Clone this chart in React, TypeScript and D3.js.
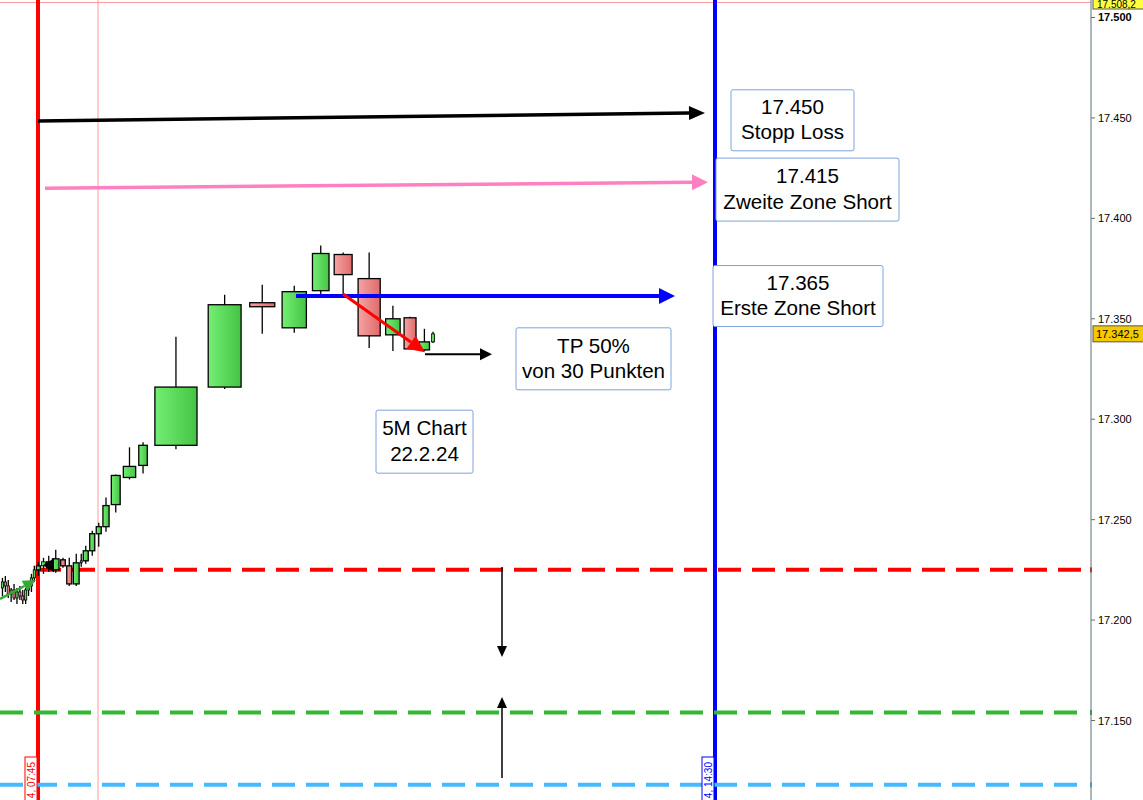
import React from 'react';
import * as d3 from 'd3';

const W = 1143;
const H = 800;

// DAX 5M candles, 22.2.24 (equivolume style: width ~ volume)
const opens = [17216, 17219, 17217, 17213, 17215, 17211, 17214, 17212, 17210, 17215, 17217, 17221, 17225,
  17227, 17229, 17225, 17230, 17227, 17218, 17228.5, 17229.5, 17234.5, 17243, 17246.5, 17257.5, 17271, 17277,
  17287, 17316, 17358, 17345.5, 17364, 17382, 17370, 17342, 17350.5, 17334.5, 17338.5];
const highs = [17221, 17222, 17220, 17216, 17218, 17216, 17217, 17215, 17216, 17219, 17223, 17227, 17229,
  17231, 17232, 17235, 17231, 17231, 17233, 17233, 17237, 17244.5, 17248.5, 17261, 17272.5, 17286, 17288.5,
  17341, 17362, 17367, 17366.5, 17386.5, 17383, 17383, 17356.5, 17351, 17345, 17343.5];
const lows = [17212, 17214, 17211, 17209, 17210, 17208, 17210, 17208, 17208, 17212, 17214, 17219, 17222,
  17223, 17224, 17223.5, 17226, 17217, 17217, 17226.5, 17228, 17232, 17236.5, 17244, 17253.5, 17270, 17273,
  17285, 17315, 17342.5, 17343, 17362, 17362, 17335.5, 17334, 17335, 17334, 17338];
const closes = [17219, 17217, 17213, 17215, 17211, 17214, 17212, 17210, 17215, 17217, 17221, 17225, 17227,
  17229, 17226, 17230.5, 17227, 17218, 17228.5, 17229.5, 17234.5, 17243, 17246.5, 17257, 17272, 17276.5, 17287,
  17316, 17357, 17356, 17363.5, 17382.5, 17372, 17341.5, 17350, 17335, 17338.5, 17342.5];
const volumes = [29, 29, 29, 29, 29, 29, 29, 29, 29, 29, 29, 29, 52,
  50, 55, 85, 60, 65, 75, 25, 65, 65, 65, 80, 115, 160, 111,
  547, 427, 325, 315, 215, 233, 287, 188, 155, 132, 40];

const volumeStart = 10;
const volumeDomain = [0, 11430];

const yTicks = [17150, 17200, 17250, 17300, 17350, 17400, 17450, 17500];
const priceDomain = [17110.42, 17508.71];
const lastPrice = 17342.5;
const sessionHigh = 17508.2;

// horizontal dashed levels
const levelPrices = [17225, 17154, 17118];
const levelStarts = [380, 0, 0];

// vertical time markers (volume position) and the visible part of their labels
const markerTimes = ['4, 07:45', '', '4, 14:30'];
const markerPositions = [380, 980, 7150];

// arrows: [x1, price1] -> [x2, price2]
const arrowStarts = [[380, 17448.5], [450, 17415], [2960, 17361.3], [3430, 17362.3], [4250, 17332.4],
  [5020, 17226.4], [5020, 17121.4], [0, 17210.5], [540, 17227.3]];
const arrowEnds = [[7050, 17452.5], [7080, 17418], [6750, 17361.3], [4250, 17333.4], [4920, 17332.4],
  [5020, 17181.6], [5020, 17161.7], [360, 17220], [430, 17227.3]];

// note boxes
const noteTexts = [['17.450', 'Stopp Loss'], ['17.415', 'Zweite Zone Short'], ['17.365', 'Erste Zone Short'],
  ['TP 50%', 'von 30 Punkten'], ['5M Chart', '22.2.24']];
const noteAnchors = [[7310, 17464], [7160, 17430], [7130, 17376.5], [5160, 17345.5], [3760, 17304.5]];

const de = d3.formatLocale({ decimal: ',', thousands: '.', grouping: [3], currency: ['', '€'] });
const fmtTick = de.format(',.0f');
const fmtPrice = de.format(',.1f');

const FONT = 'Arial, "Liberation Sans", sans-serif';

function Arrow({ x1, y1, x2, y2, color, width, head, half }: any) {
  const dx = x2 - x1, dy = y2 - y1;
  const len = Math.sqrt(dx * dx + dy * dy) || 1;
  const ux = dx / len, uy = dy / len;
  const bx = x2 - ux * head, by = y2 - uy * head;
  const px = -uy, py = ux;
  const pts = `${x2},${y2} ${bx + px * half},${by + py * half} ${bx - px * half},${by - py * half}`;
  return (
    <g>
      {width > 0 && len > head && <line x1={x1} y1={y1} x2={bx} y2={by} stroke={color} strokeWidth={width} />}
      <polygon points={pts} fill={color} />
    </g>
  );
}

export default function App() {
  const x = d3.scaleLinear().domain(volumeDomain).range([0, W]);
  const y = d3.scaleLinear().domain(priceDomain).range([H, 0]);

  const cum: number[] = [];
  let acc = volumeStart;
  volumes.forEach((v) => { cum.push(acc); acc += v; });

  const axisX = 1091;
  const plotRight = 1085;

  const levelStyles = [
    { color: '#ff0000' },
    { color: '#33b833' },
    { color: '#44bbff' },
  ];
  const markerStyles = [
    { color: '#ff0000', w: 4 },
    { color: '#ff9c9c', w: 1 },
    { color: '#0000ff', w: 4 },
  ];
  const arrowStyles = [
    { color: '#000000', width: 3.5, head: 16, half: 7 },
    { color: '#ff80c0', width: 3.5, head: 16, half: 8 },
    { color: '#0000ff', width: 4, head: 16, half: 8 },
    { color: '#ff0000', width: 3, head: 17, half: 8 },
    { color: '#000000', width: 2, head: 12, half: 6 },
    { color: '#000000', width: 1.5, head: 11, half: 5 },
    { color: '#000000', width: 1.5, head: 11, half: 5 },
    { color: '#33aa33', width: 2.5, head: 13, half: 6 },
    { color: '#000000', width: 0, head: 11, half: 7 },
  ];
  const noteBoxes = [
    { w: 123, h: 61 },
    { w: 183, h: 63 },
    { w: 170, h: 61 },
    { w: 155, h: 62 },
    { w: 97, h: 63 },
  ];

  return (
    <svg width={W} height={H} style={{ position: 'absolute', left: 0, top: 0, background: '#fff' }}
      fontFamily={FONT}>
      <defs>
        <linearGradient id="gUp" x1="0" x2="1" y1="0" y2="0">
          <stop offset="0" stopColor="#74ee74" />
          <stop offset="1" stopColor="#44c444" />
        </linearGradient>
        <linearGradient id="gDn" x1="0" x2="1" y1="0" y2="0">
          <stop offset="0" stopColor="#f5a3a3" />
          <stop offset="1" stopColor="#e06a6a" />
        </linearGradient>
        <clipPath id="plot"><rect x={0} y={0} width={axisX} height={H} /></clipPath>
      </defs>
      <rect x={0} y={0} width={W} height={H} fill="#fff" />

      {/* top session high line */}
      <line x1={0} x2={axisX} y1={y(sessionHigh) + 1.5} y2={y(sessionHigh) + 1.5} stroke="#ff9c9c" strokeWidth={1} />

      {/* vertical markers */}
      {markerPositions.map((m, i) => (
        <line key={'vm' + i} x1={x(m)} x2={x(m)} y1={0} y2={H}
          stroke={markerStyles[i].color} strokeWidth={markerStyles[i].w} />
      ))}

      {/* dashed levels */}
      {levelPrices.map((p, i) => (
        <g key={'lv' + i}>
          <line x1={x(levelStarts[i])} x2={plotRight} y1={y(p)} y2={y(p)}
            stroke={levelStyles[i].color} strokeWidth={4} strokeDasharray="23 11" />
          <rect x={axisX - 1} y={y(p) - 2.5} width={2} height={5} fill={levelStyles[i].color} />
        </g>
      ))}

      {/* candles */}
      <g clipPath="url(#plot)">
        {opens.map((o, i) => {
          const c = closes[i];
          const x0 = x(cum[i]);
          const x1 = x(cum[i] + volumes[i]);
          const slot = x1 - x0;
          const bw = Math.max(1.6, slot * 0.77);
          const cx = (x0 + x1) / 2;
          const top = y(Math.max(o, c));
          const bot = y(Math.min(o, c));
          const up = c >= o;
          return (
            <g key={'c' + i}>
              <line x1={cx} x2={cx} y1={y(highs[i])} y2={y(lows[i])} stroke="#000" strokeWidth={1.3} />
              <rect x={cx - bw / 2} y={top} width={bw} height={Math.max(1.5, bot - top)}
                fill={up ? 'url(#gUp)' : 'url(#gDn)'} stroke="#000" strokeWidth={bw < 4 ? 0.8 : 1.3} />
            </g>
          );
        })}
      </g>

      {/* arrows */}
      {arrowStarts.map((s, i) => (
        <Arrow key={'a' + i} x1={x(s[0])} y1={y(s[1])} x2={x(arrowEnds[i][0])} y2={y(arrowEnds[i][1])}
          {...arrowStyles[i]} />
      ))}

      {/* note boxes */}
      {noteTexts.map((lines, i) => {
        const bx = x(noteAnchors[i][0]);
        const by = y(noteAnchors[i][1]);
        const { w, h } = noteBoxes[i];
        return (
          <g key={'n' + i}>
            <rect x={bx} y={by} width={w} height={h} rx={2} fill="#fff" stroke="#7fa2dc" strokeWidth={1} />
            {lines.map((t, j) => (
              <text key={j} x={bx + w / 2} y={by + h * (j === 0 ? 0.28 : 0.69)} textAnchor="middle"
                dominantBaseline="central" fontSize={20.6} fill="#000">{t}</text>
            ))}
          </g>
        );
      })}

      {/* time marker labels */}
      {markerTimes.map((t, i) => t ? (
        <g key={'tl' + i}>
          <rect x={x(markerPositions[i]) - 13} y={757} width={12} height={60} fill="#fff"
            stroke={markerStyles[i].color} strokeWidth={1} />
          <text transform={`translate(${x(markerPositions[i]) - 3},${762}) rotate(-90)`} textAnchor="end"
            fontSize={10} fill={markerStyles[i].color}>{t}</text>
        </g>
      ) : null)}

      {/* right axis */}
      <line x1={axisX} x2={axisX} y1={0} y2={H} stroke="#5f6f74" strokeWidth={1} />
      {yTicks.map((t) => (
        <g key={'t' + t}>
          <line x1={axisX} x2={axisX + 4} y1={y(t)} y2={y(t)} stroke="#5f6f74" />
          <text x={axisX + 7} y={y(t)} dominantBaseline="central" fontSize={11}
            fontWeight={t === 17500 ? 'bold' : 'normal'} fill="#000">{fmtTick(t)}</text>
        </g>
      ))}
      {/* price tags */}
      <g>
        <rect x={axisX + 2} y={-6} width={W - axisX} height={15} fill="#ffff40" stroke="#555" strokeWidth={1} />
        <text x={axisX + 6} y={4.5} dominantBaseline="central" fontSize={10} fill="#000">{fmtPrice(sessionHigh)}</text>
      </g>
      <g>
        <rect x={axisX + 2} y={y(lastPrice) - 8} width={W - axisX} height={16} fill="#f5c800" stroke="#555" strokeWidth={1} />
        <text x={axisX + 5} y={y(lastPrice)} dominantBaseline="central" fontSize={11} fill="#000">{fmtPrice(lastPrice)}</text>
      </g>
    </svg>
  );
}
